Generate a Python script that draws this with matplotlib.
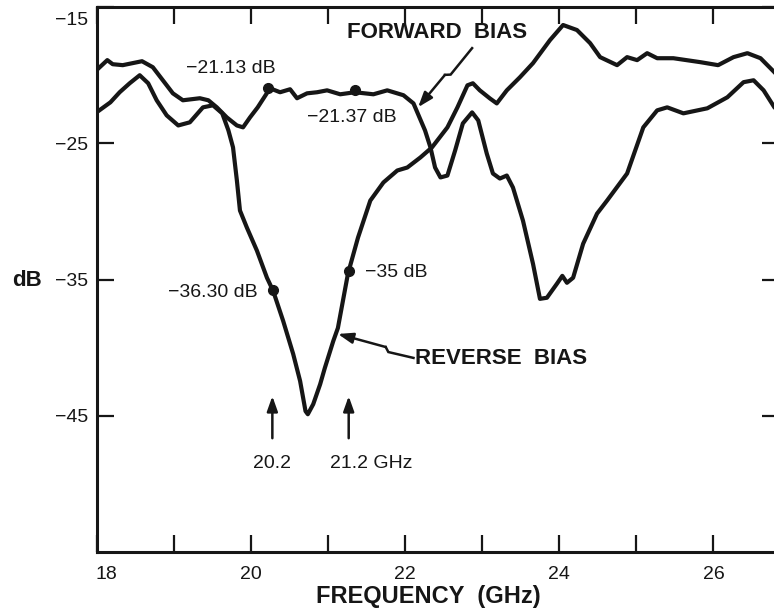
import numpy as np
import matplotlib
matplotlib.use("Agg")
import matplotlib.pyplot as plt
import matplotlib.transforms as mtrans

# ---------------- data ----------------
rev_freq = [18.00, 18.18, 18.30, 18.43, 18.56, 18.67, 18.78, 18.91, 19.06, 19.21,
            19.38, 19.51, 19.63, 19.71, 19.77, 19.82, 19.86, 19.95, 20.08, 20.21,
            20.29, 20.42, 20.55, 20.64, 20.71, 20.74, 20.81, 20.90, 20.96, 21.07,
            21.13, 21.26, 21.39, 21.55, 21.72, 21.90, 22.03, 22.20, 22.35, 22.55,
            22.68, 22.81, 22.88, 22.97, 23.10, 23.19, 23.32, 23.49, 23.66, 23.88,
            24.05, 24.23, 24.40, 24.53, 24.75, 24.88, 25.01, 25.14, 25.27, 25.48,
            25.83, 26.06, 26.26, 26.44, 26.61, 26.79, 26.93]
rev_db = [-22.72, -21.98, -21.24, -20.58, -19.99, -20.58, -21.83, -22.94, -23.68, -23.45,
          -22.35, -22.20, -22.79, -24.04, -25.29, -27.72, -29.93, -31.19, -32.88, -34.87,
          -35.83, -38.04, -40.47, -42.46, -44.67, -44.90, -44.16, -42.69, -41.51, -39.52,
          -38.56, -34.58, -31.93, -29.20, -27.87, -26.99, -26.77, -26.03, -25.29, -23.82,
          -22.35, -20.73, -20.58, -21.10, -21.69, -22.06, -21.10, -20.14, -19.10, -17.41,
          -16.30, -16.67, -17.63, -18.66, -19.25, -18.66, -18.88, -18.37, -18.74, -18.74,
          -19.03, -19.25, -18.66, -18.37, -18.74, -19.77, -20.73]

fwd_freq = [18.00, 18.14, 18.21, 18.34, 18.59, 18.73, 18.86, 18.99, 19.12, 19.34,
            19.45, 19.56, 19.69, 19.82, 19.90, 19.99, 20.09, 20.25, 20.38, 20.51,
            20.60, 20.73, 20.86, 20.99, 21.16, 21.35, 21.59, 21.77, 21.98, 22.11,
            22.26, 22.33, 22.39, 22.46, 22.55, 22.65, 22.75, 22.87, 22.95, 23.06,
            23.14, 23.23, 23.32, 23.40, 23.53, 23.66, 23.75, 23.84, 23.97, 24.04,
            24.10, 24.18, 24.31, 24.49, 24.62, 24.88, 25.09, 25.27, 25.40, 25.61,
            25.92, 26.18, 26.39, 26.52, 26.65, 26.79, 26.93]
fwd_db = [-19.62, -18.88, -19.18, -19.25, -18.96, -19.40, -20.36, -21.32, -21.83, -21.68,
          -21.83, -22.35, -23.09, -23.68, -23.82, -23.09, -22.35, -20.95, -21.24, -21.02,
          -21.68, -21.32, -21.24, -21.10, -21.39, -21.24, -21.39, -21.10, -21.46, -22.06,
          -24.05, -25.29, -26.77, -27.50, -27.36, -25.52, -23.53, -22.72, -23.31, -25.74,
          -27.21, -27.58, -27.36, -28.24, -30.68, -33.85, -36.42, -36.34, -35.31, -34.73,
          -35.24, -34.87, -32.37, -30.16, -29.20, -27.21, -23.82, -22.57, -22.35, -22.79,
          -22.42, -21.61, -20.50, -20.36, -21.10, -22.35, -23.16]

fwd_dot_freq = [20.23, 21.35]
fwd_dot_db = [-20.9, -21.1]
rev_dot_freq = [20.29, 21.27]
rev_dot_db = [-35.75, -34.4]

x_major = [18, 20, 22, 24, 26]
x_minor = [19, 21, 23, 25]
y_ticks = [-15, -25, -35, -45]
y_ticklabels = ["\u221215", "\u221225", "\u221235", "\u221245"]

# ---------------- figure ----------------
plt.rcParams['font.family'] = ['Liberation Sans', 'DejaVu Sans']
INK = '#161616'

fig = plt.figure(figsize=(7.74, 6.15), dpi=100)
ax = fig.add_axes([0.1247, 0.1029, 0.8818, 0.8852])
ax.set_xlim(18, 26.85)
ax.set_ylim(-55, -15)

ax.plot(rev_freq, rev_db, color=INK, lw=3.0, solid_joinstyle='round', solid_capstyle='round')
ax.plot(fwd_freq, fwd_db, color=INK, lw=3.0, solid_joinstyle='round', solid_capstyle='round')
ax.plot(fwd_dot_freq, fwd_dot_db, 'o', color=INK, ms=7)
ax.plot(rev_dot_freq, rev_dot_db, 'o', color=INK, ms=7)

for s in ax.spines.values():
    s.set_linewidth(2.2)
    s.set_color(INK)

ax.set_xticks(x_major)
ax.set_xticks(x_minor, minor=True)
ax.set_yticks(y_ticks)
ax.set_yticklabels(y_ticklabels)
ax.tick_params(axis='both', which='both', direction='in', length=12, width=1.6,
               color=INK, top=True, right=True, labelsize=14, labelcolor=INK)
ax.tick_params(axis='x', which='both', pad=10)
ax.tick_params(axis='y', which='both', pad=6)

# small offsets of the first tick labels as in the original drawing
lab15 = ax.get_yticklabels()[0]
lab15.set_transform(lab15.get_transform() +
                    mtrans.ScaledTranslation(0, -11 / 100, fig.dpi_scale_trans))
lab18 = ax.get_xticklabels()[0]
lab18.set_transform(lab18.get_transform() +
                    mtrans.ScaledTranslation(10 / 100, 0, fig.dpi_scale_trans))

ax.set_xlabel('FREQUENCY  (GHz)', fontsize=17, fontweight='bold', color=INK)
ax.xaxis.set_label_coords(0.486, -0.083)
ax.xaxis.label.set_va('center')
ax.set_ylabel('dB', fontsize=16, fontweight='bold', color=INK, rotation=0)
ax.yaxis.set_label_coords(-0.102, 0.499)
ax.yaxis.label.set_va('center')
ax.yaxis.label.set_ha('center')

tk = dict(fontsize=14, color=INK)
ax.text(19.74, -19.48, '\u221221.13 dB', ha='center', va='center', **tk)
ax.text(21.31, -23.09, '\u221221.37 dB', ha='center', va='center', **tk)
ax.text(20.09, -35.98, '\u221236.30 dB', ha='right', va='center', **tk)
ax.text(21.48, -34.50, '\u221235 dB', ha='left', va='center', **tk)
ax.text(20.28, -48.5, '20.2', ha='center', va='center', **tk)
ax.text(21.03, -48.5, '21.2 GHz', ha='left', va='center', **tk)
ax.text(22.42, -16.82, 'FORWARD  BIAS', ha='center', va='center', fontsize=16,
        fontweight='bold', color=INK)
ax.text(23.24, -40.77, 'REVERSE  BIAS', ha='center', va='center', fontsize=16,
        fontweight='bold', color=INK)

head = dict(arrowstyle='-|>,head_length=0.9,head_width=0.32', lw=1.8, color=INK,
            shrinkA=0, shrinkB=0)

# vertical arrows
for xf in [20.28, 21.27]:
    ax.annotate('', xy=(xf, -43.57), xytext=(xf, -46.66), arrowprops=head)


def bolt_arrow(tail, tip, frac=0.5, amp=2.0, gap=2.0):
    T = ax.transData.transform(tail)
    H = ax.transData.transform(tip)
    v = H - T
    d = v / np.hypot(*v)
    n = np.array([-d[1], d[0]])
    M = T + v * frac
    p1 = M - d * gap + n * amp
    p2 = M + d * gap - n * amp
    inv = ax.transData.inverted()
    a, b, c = inv.transform(T), inv.transform(p1), inv.transform(p2)
    ax.plot([a[0], b[0], c[0]], [a[1], b[1], c[1]], color=INK, lw=1.8,
            solid_joinstyle='miter')
    ax.annotate('', xy=tip, xytext=tuple(c), arrowprops=head)


bolt_arrow((22.87, -18.0), (22.17, -22.34), frac=0.45)
bolt_arrow((22.11, -40.76), (21.13, -39.0), frac=0.35)

fig.savefig('out.png', dpi=100)
